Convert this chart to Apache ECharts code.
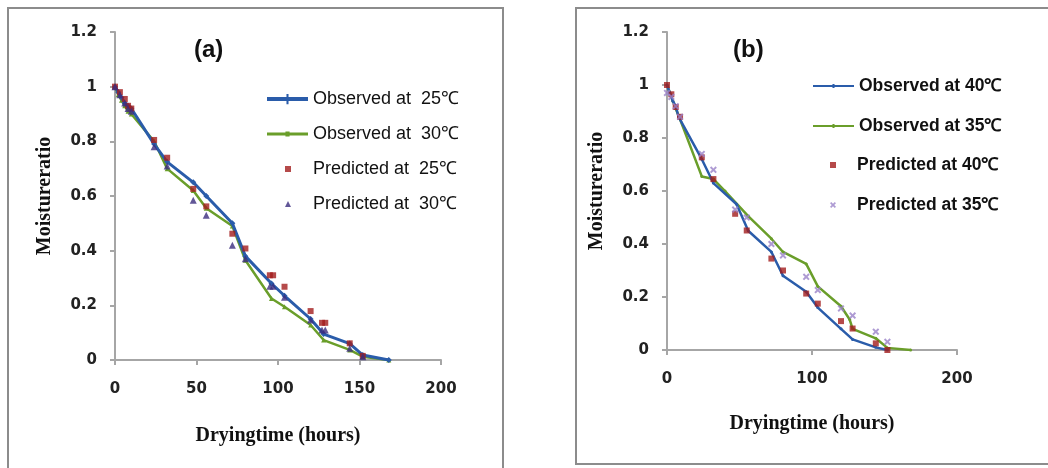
<!DOCTYPE html>
<html>
<head>
<meta charset="utf-8">
<script src="https://cdn.jsdelivr.net/npm/echarts@6/dist/echarts.min.js"></script>
<style>
  html, body { margin: 0; padding: 0; background: #fff; }
  #chart { width: 1048px; height: 468px; }
</style>
</head>
<body>
<div id="chart"></div>
<script>
// Drying time (hours) and moisture ratio, panel (a)
const timeA = [0, 2, 4, 6, 8, 10, 24, 32, 48, 56, 72, 80, 96, 104, 120, 128, 144, 152, 168];
const obs25 = [1.0, 0.98, 0.96, 0.94, 0.93, 0.92, 0.79, 0.725, 0.65, 0.60, 0.50, 0.38, 0.28, 0.235, 0.15, 0.095, 0.06, 0.018, 0];
const obs30 = [1.0, 0.97, 0.95, 0.93, 0.91, 0.90, 0.80, 0.70, 0.62, 0.555, 0.49, 0.365, 0.225, 0.195, 0.128, 0.073, 0.037, 0.012, 0];
const predTimeA = [0, 3, 6, 8, 10, 24, 32, 48, 56, 72, 80, 95, 97, 104, 120, 127, 129, 144, 152];
const pred25 = [1.0, 0.98, 0.955, 0.93, 0.92, 0.805, 0.74, 0.626, 0.562, 0.462, 0.408, 0.31, 0.31, 0.268, 0.179, 0.136, 0.136, 0.061, 0.015];
const pred30 = [1.0, 0.97, 0.94, 0.92, 0.91, 0.78, 0.71, 0.584, 0.53, 0.42, 0.37, 0.27, 0.27, 0.23, 0.146, 0.11, 0.11, 0.043, 0.012];

// Panel (b)
const timeB40 = [0, 2, 4, 6, 8, 24, 32, 48, 56, 72, 80, 96, 104, 120, 128, 144, 152];
const obs40 = [1.0, 0.97, 0.94, 0.92, 0.88, 0.72, 0.63, 0.55, 0.45, 0.37, 0.28, 0.22, 0.16, 0.08, 0.04, 0.01, 0];
const timeB35 = [0, 2, 4, 6, 8, 24, 32, 40, 56, 72, 80, 96, 104, 120, 126, 128, 144, 152, 168];
const obs35 = [1.0, 0.97, 0.94, 0.91, 0.885, 0.655, 0.645, 0.60, 0.505, 0.42, 0.37, 0.325, 0.24, 0.165, 0.115, 0.08, 0.044, 0.008, 0];
const predTimeB = [0, 3, 6, 9, 24, 32, 47, 55, 72, 80, 96, 104, 120, 128, 144, 152];
const pred40 = [1.0, 0.965, 0.917, 0.88, 0.727, 0.645, 0.514, 0.451, 0.345, 0.30, 0.213, 0.175, 0.109, 0.081, 0.025, 0.0];
const pred35 = [0.97, 0.955, 0.92, 0.88, 0.74, 0.68, 0.53, 0.50, 0.40, 0.357, 0.276, 0.226, 0.157, 0.13, 0.069, 0.031];

const legendA = ['Observed at  25℃', 'Observed at  30℃', 'Predicted at  25℃', 'Predicted at  30℃'];
const legendB = ['Observed at 40℃', 'Observed at 35℃', 'Predicted at 40℃', 'Predicted at 35℃'];

const yTicks = { min: 0, max: 1.2, interval: 0.2 };

const pairs = (xs, ys) => xs.map((x, i) => [x, ys[i]]);

const blue = '#2a5caa';
const green = '#6a9e2a';
const red = '#a31d1d';
const navy = '#3b2d7e';
const lilac = '#9a82c8';

const tickFont = { fontFamily: 'DejaVu Sans', fontSize: 15, fontWeight: 'bold', color: '#222' };
const titleFont = { fontFamily: 'Liberation Serif', fontSize: 20, fontWeight: 'bold', color: '#111' };

// Legend glyphs: line with a small marker, and stand-alone markers
const icons = {
  lineA25: 'path://M0,3H40V7H0Z M19,0H21V10H19Z',
  lineA30: 'path://M0,1H40V4H0Z M18,0H22V5H18Z',
  lineB: 'path://M0,1H40V3H0Z M19,0H21V4H19Z',
  square: 'path://M0,0H10V10H0Z',
  triangle: 'path://M5,0L10,10H0Z',
  cross: 'path://M2,0 L5,3 L8,0 L10,2 L7,5 L10,8 L8,10 L5,7 L2,10 L0,8 L3,5 L0,2Z'
};

function xAxis(gridIndex, interval, gap) {
  return {
    type: 'value', gridIndex, min: 0, max: 200, interval,
    name: 'Dryingtime (hours)', nameLocation: 'middle', nameGap: gap,
    nameTextStyle: titleFont,
    axisLine: { onZero: false, lineStyle: { color: '#a6a6a6', width: 2 } },
    axisTick: { show: true, length: 5, lineStyle: { color: '#a6a6a6', width: 2 } },
    axisLabel: Object.assign({ margin: 22 }, tickFont),
    splitLine: { show: false }
  };
}

function yAxis(gridIndex, gap) {
  return Object.assign({
    type: 'value', gridIndex,
    name: 'Moistureratio', nameLocation: 'middle', nameGap: gap, nameRotate: 90,
    nameTextStyle: titleFont,
    axisLine: { show: true, lineStyle: { color: '#a6a6a6', width: 2 } },
    axisTick: { show: true, length: 5, lineStyle: { color: '#a6a6a6', width: 2 } },
    axisLabel: Object.assign({ margin: 18 }, tickFont),
    splitLine: { show: false }
  }, yTicks);
}

// Vertical legend block; markers-only blocks use a narrow icon and pad the text across
function legend(items, left, top, gap, width, height, font, textPad) {
  return {
    data: items, orient: 'vertical', left, top, padding: 0,
    itemWidth: width, itemHeight: height, itemGap: gap,
    textStyle: Object.assign({ padding: [0, 0, 0, textPad] }, font)
  };
}

const fontA = { fontFamily: 'Liberation Sans', fontSize: 18, color: '#111' };
const fontB = { fontFamily: 'Liberation Sans', fontSize: 17.5, fontWeight: 'bold', color: '#111' };

const chart = echarts.init(document.getElementById('chart'));
chart.setOption({
  animation: false,
  backgroundColor: '#fff',
  graphic: [
    { type: 'rect', shape: { x: 8, y: 8, width: 495, height: 470 }, style: { fill: 'none', stroke: '#8c8c8c', lineWidth: 2 }, z: 0 },
    { type: 'rect', shape: { x: 576, y: 8, width: 480, height: 456 }, style: { fill: 'none', stroke: '#8c8c8c', lineWidth: 2 }, z: 0 },
    { type: 'text', left: 194, top: 38, style: { text: '(a)', font: 'bold 24px Liberation Sans', fill: '#111' } },
    { type: 'text', left: 733, top: 38, style: { text: '(b)', font: 'bold 24px Liberation Sans', fill: '#111' } }
  ],
  grid: [
    { left: 115, top: 32, width: 326, height: 328 },
    { left: 667, top: 32, width: 290, height: 318 }
  ],
  xAxis: [xAxis(0, 50, 66), xAxis(1, 100, 64)],
  yAxis: [yAxis(0, 60), yAxis(1, 60)],
  legend: [
    legend([{ name: legendA[0], icon: icons.lineA25 }, { name: legendA[1], icon: icons.lineA30 }], 267, 90, 17, 41, 12, fontA, 0),
    legend([{ name: legendA[2], icon: icons.square }, { name: legendA[3], icon: icons.triangle }], 285, 160, 17, 6, 6, fontA, 17),
    legend([{ name: legendB[0], icon: icons.lineB }, { name: legendB[1], icon: icons.lineB }], 813, 77, 22, 41, 12, fontB, 0),
    legend([{ name: legendB[2], icon: icons.square }, { name: legendB[3], icon: icons.cross }], 830, 156, 22, 6, 6, fontB, 16)
  ],
  series: [
    { name: legendA[0], type: 'line', xAxisIndex: 0, yAxisIndex: 0, data: pairs(timeA, obs25),
      color: blue, lineStyle: { width: 3 }, symbol: 'diamond', symbolSize: 6, z: 3 },
    { name: legendA[1], type: 'line', xAxisIndex: 0, yAxisIndex: 0, data: pairs(timeA, obs30),
      color: green, lineStyle: { width: 2.5 }, symbol: 'triangle', symbolSize: 5, z: 2 },
    { name: legendA[2], type: 'scatter', xAxisIndex: 0, yAxisIndex: 0, data: pairs(predTimeA, pred25),
      color: red, symbol: 'rect', symbolSize: 6, z: 4 },
    { name: legendA[3], type: 'scatter', xAxisIndex: 0, yAxisIndex: 0, data: pairs(predTimeA, pred30),
      color: navy, symbol: 'triangle', symbolSize: 7, z: 5 },

    { name: legendB[0], type: 'line', xAxisIndex: 1, yAxisIndex: 1, data: pairs(timeB40, obs40),
      color: blue, lineStyle: { width: 2.5 }, symbol: 'circle', symbolSize: 3, z: 3 },
    { name: legendB[1], type: 'line', xAxisIndex: 1, yAxisIndex: 1, data: pairs(timeB35, obs35),
      color: green, lineStyle: { width: 2.5 }, symbol: 'circle', symbolSize: 3, z: 2 },
    { name: legendB[2], type: 'scatter', xAxisIndex: 1, yAxisIndex: 1, data: pairs(predTimeB, pred40),
      color: red, symbol: 'rect', symbolSize: 6, z: 4 },
    { name: legendB[3], type: 'scatter', xAxisIndex: 1, yAxisIndex: 1, data: pairs(predTimeB, pred35),
      color: lilac, symbol: icons.cross, symbolSize: 7, z: 5 }
  ]
});
</script>
</body>
</html>
